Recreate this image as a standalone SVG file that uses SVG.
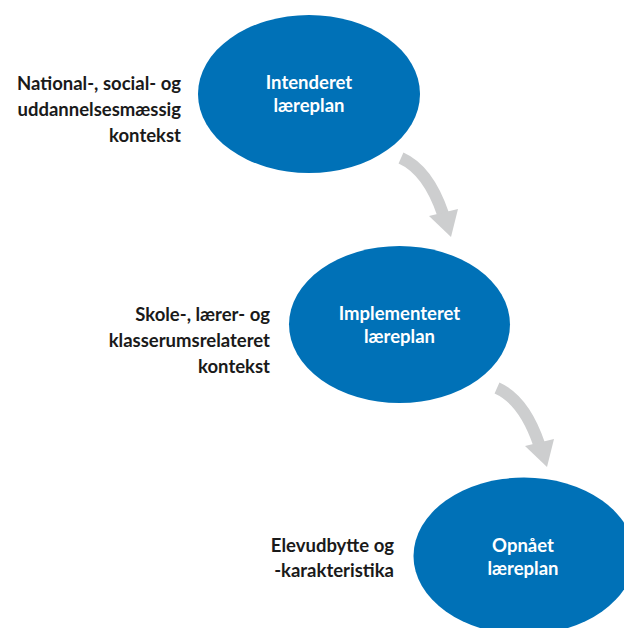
<svg xmlns="http://www.w3.org/2000/svg" width="624" height="628" viewBox="0 0 624 628">
<style>
.node{fill:#0071B7}
.in{font-family:Lato,"Liberation Sans",sans-serif;font-weight:bold;font-size:18.5px;fill:#ffffff;text-anchor:middle}
.lbl{font-family:Lato,"Liberation Sans",sans-serif;font-weight:bold;font-size:18.5px;fill:#1a1a1a;text-anchor:end}
.shaft{fill:none;stroke:#CDCECF;stroke-width:12}
.head{fill:#CDCECF}
</style>
<rect width="624" height="628" fill="#ffffff"/>
<g id="connectors">
<g id="arrow1">
<path class="shaft" d="M401,158 Q428,170 443,214"/>
<polygon class="head" points="429,216 458,209 451,237"/>
</g>
<g id="arrow2">
<path class="shaft" d="M497,388 Q524,400 539,444"/>
<polygon class="head" points="525,446 554,439 547,467"/>
</g>
</g>
<g id="node1">
<ellipse class="node" cx="309" cy="94" rx="111" ry="79"/>
<text class="in" x="309" y="89">Intenderet</text>
<text class="in" x="309" y="112">læreplan</text>
</g>
<g id="label1">
<text class="lbl" x="181" y="90">National-, social- og</text>
<text class="lbl" x="181" y="116">uddannelsesmæssig</text>
<text class="lbl" x="181" y="142">kontekst</text>
</g>
<g id="node2">
<ellipse class="node" cx="399.5" cy="324.5" rx="110.5" ry="78.5"/>
<text class="in" x="399.5" y="320">Implementeret</text>
<text class="in" x="399.5" y="343">læreplan</text>
</g>
<g id="label2">
<text class="lbl" x="270" y="321">Skole-, lærer- og</text>
<text class="lbl" x="270" y="347">klasserumsrelateret</text>
<text class="lbl" x="270" y="373">kontekst</text>
</g>
<g id="node3">
<ellipse class="node" cx="524" cy="556" rx="110.5" ry="78.5"/>
<text class="in" x="523" y="552">Opnået</text>
<text class="in" x="523" y="575">læreplan</text>
</g>
<g id="label3">
<text class="lbl" x="394" y="552">Elevudbytte og</text>
<text class="lbl" x="394" y="577">-karakteristika</text>
</g>
</svg>
